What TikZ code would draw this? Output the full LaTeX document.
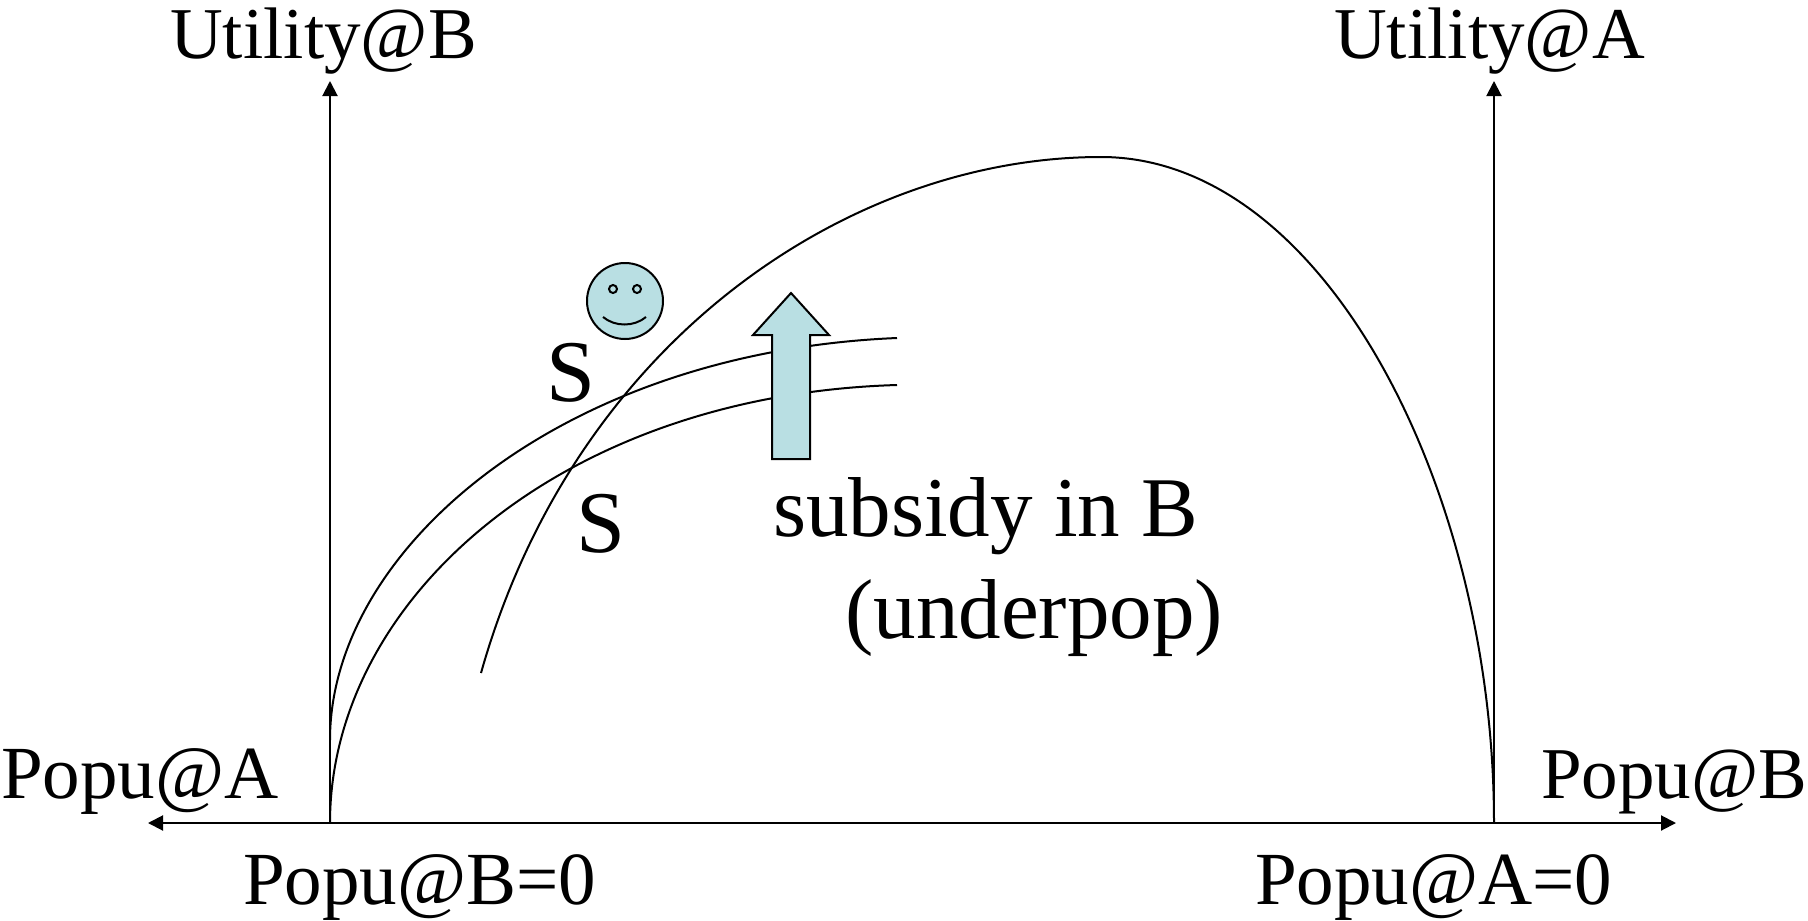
\documentclass[tikz,border=0pt]{standalone}
\usepackage{fontspec}
\setmainfont{Liberation Serif}
\usetikzlibrary{arrows.meta}
\definecolor{paleblue}{HTML}{B9DFE3}
\tikzset{
  axis/.style={line width=2pt,-{Triangle[length=15pt,width=15pt]}},
  curve/.style={line width=2pt},
  outlined/.style={line width=2pt,draw=black,fill=paleblue},
  small/.style={anchor=base west,inner sep=0pt,font=\fontsize{75}{80}\selectfont},
  edge/.style={anchor=base west,inner sep=0pt,font=\fontsize{73}{80}\selectfont},
  large/.style={anchor=base west,inner sep=0pt,font=\fontsize{85}{90}\selectfont},
  big/.style={anchor=base west,inner sep=0pt,font=\fontsize{88}{96}\selectfont}
}
\begin{document}
\begin{tikzpicture}[x=1pt,y=-1pt]
\useasboundingbox (0,0) rectangle (1808,921);
\coordinate (O1) at (330,823);
\coordinate (O2) at (1494,823);
\coordinate (top1) at (330,81);
\coordinate (top2) at (1494,81);
\coordinate (left) at (148,823);
\coordinate (right) at (1676,823);
\coordinate (peak) at (1101,157);
\coordinate (start) at (481,673);
\coordinate (startU) at (330,740);
\coordinate (endU) at (897,338);
\coordinate (endL) at (897,385);
\draw[axis] (O1) -- (top1);
\draw[axis] (O2) -- (top2);
\draw[axis] (O1) -- (left);
\draw[axis] (O2) -- (right);
\draw[curve] (O1) -- (O2);
\draw[curve] (start) .. controls (575,340) and (850,157) .. (peak)
  .. controls (1325,157) and (1494,490) .. (O2);
\draw[curve] (startU) .. controls (330,550) and (560,352) .. (endU);
\draw[curve] (O1) .. controls (330,600) and (560,395) .. (endL);
% arrow
\draw[outlined,line join=miter] (772,459) -- (772,335) -- (753,335) -- (791,293) -- (829,335) -- (810,335) -- (810,459) -- cycle;
% smiley
\draw[outlined] (625,301) circle (38);
\draw[outlined] (613,289) circle (4);
\draw[outlined] (637,289) circle (4);
\draw[curve] (603,317) .. controls (615,327) and (634,327) .. (646,317);
% labels
\node[edge] (uB) at (170,58) {Utility@B};
\node[edge] (uA) at (1334,58) {Utility@A};
\node[small] (pA) at (1,798) {Popu@A};
\node[edge] (pB) at (1541,798) {Popu@B};
\node[small] (pB0) at (243,904) {Popu@B=0};
\node[small] (pA0) at (1255,904) {Popu@A=0};
\node[big] (s1) at (546,401) {S};
\node[big] (s2) at (576,552) {S};
\node[large] (sub) at (773,536) {subsidy in B};
\node[large] (und) at (845,638) {(underpop)};
\end{tikzpicture}
\end{document}
